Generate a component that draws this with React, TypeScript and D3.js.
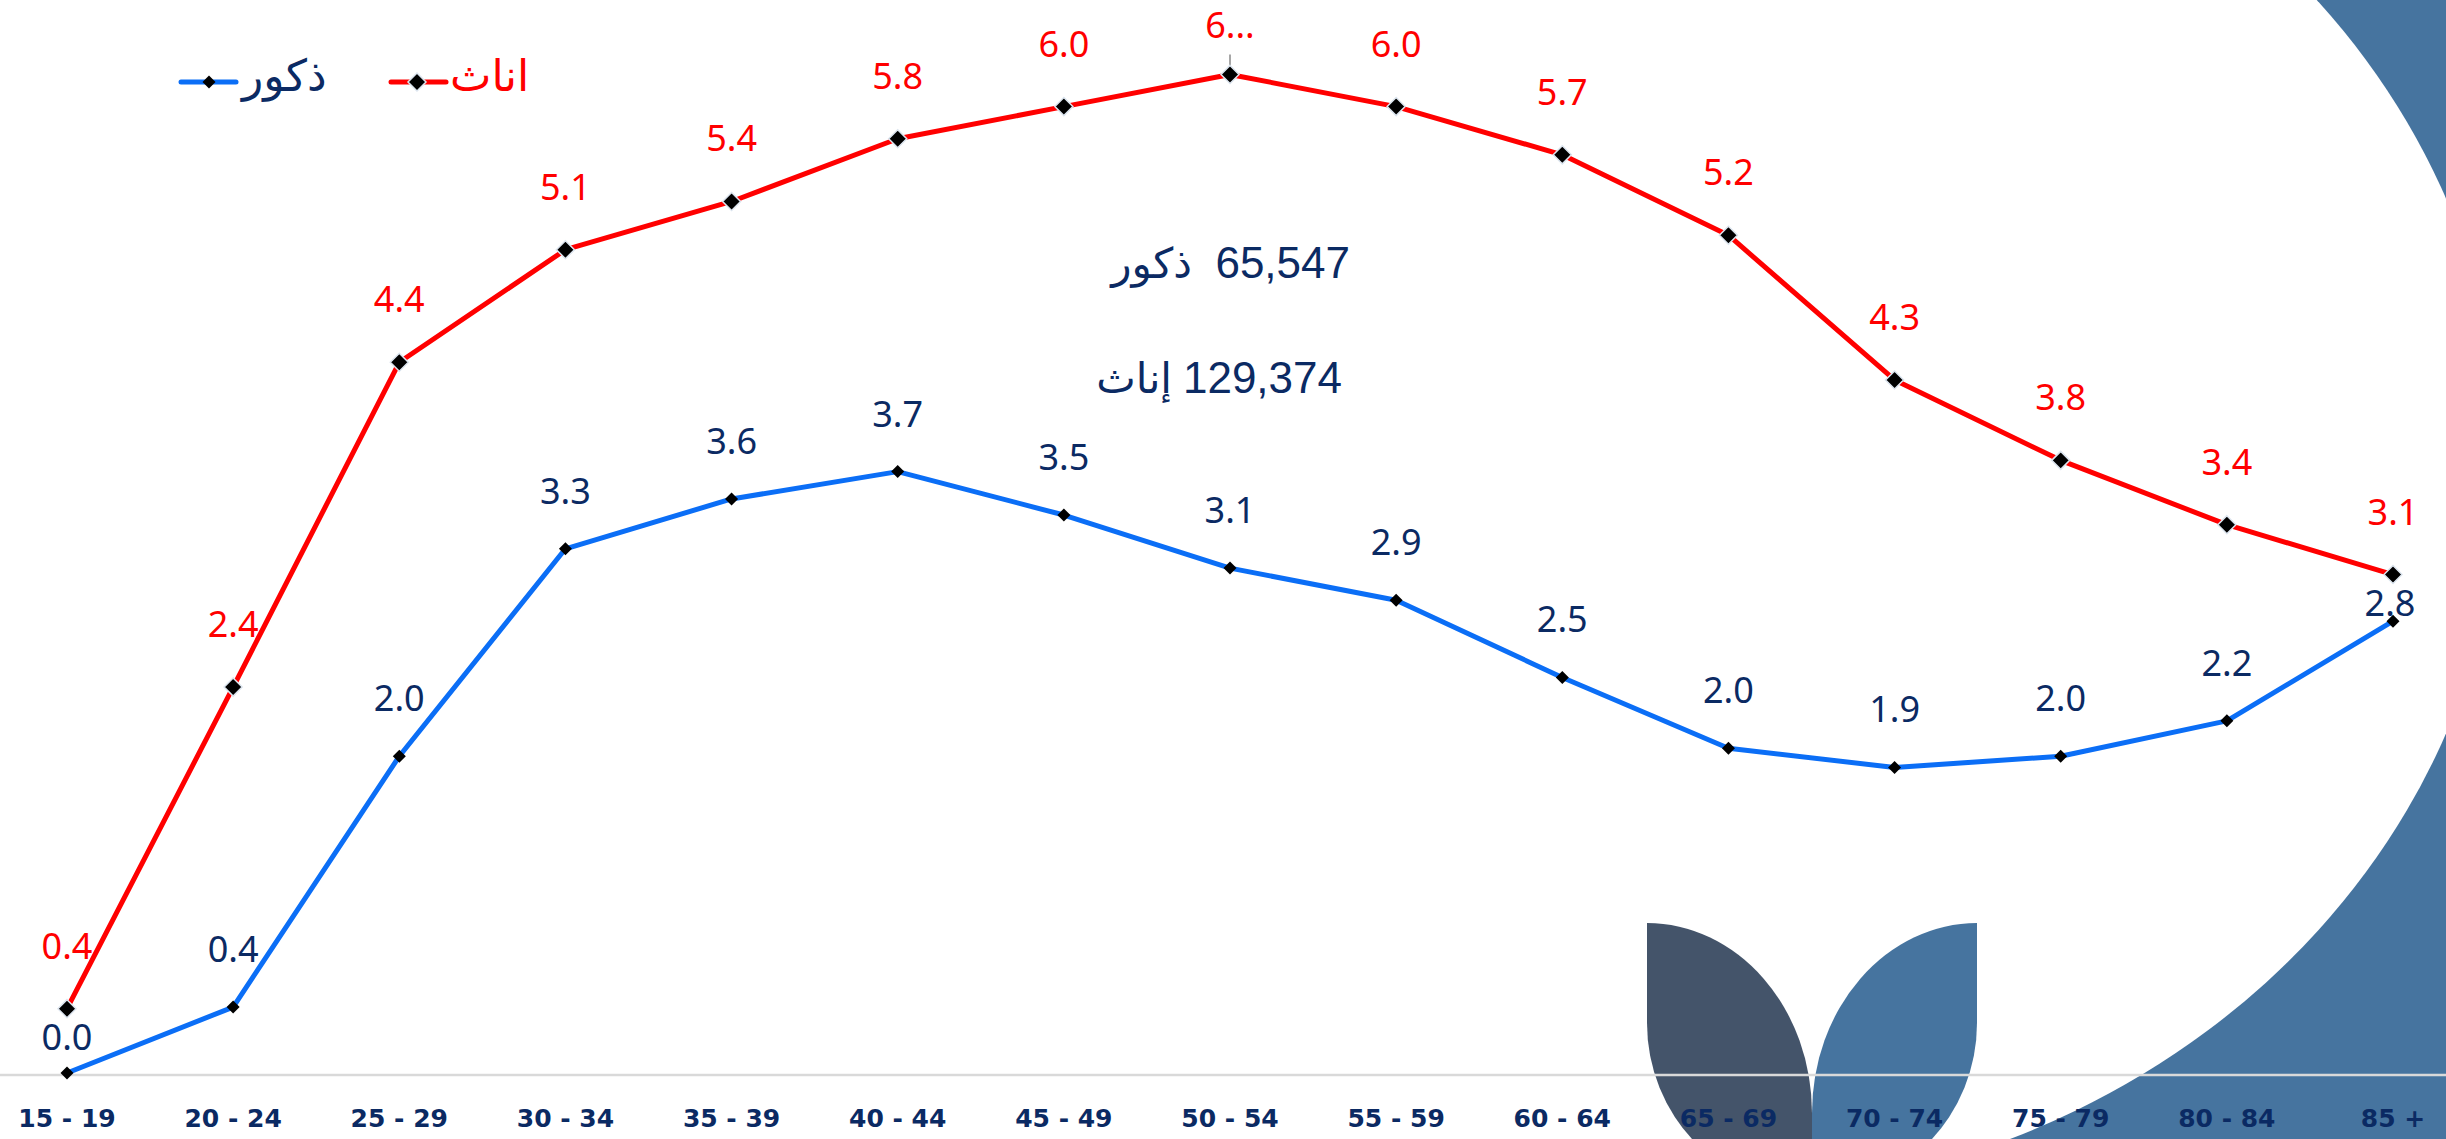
import React from "react";
import * as d3 from "d3";

// ---- data ----
const ageGroups = [
  "15 - 19", "20 - 24", "25 - 29", "30 - 34", "35 - 39", "40 - 44", "45 - 49",
  "50 - 54", "55 - 59", "60 - 64", "65 - 69", "70 - 74", "75 - 79", "80 - 84", "85 +",
];
const femaleValues = [0.4, 2.4, 4.42, 5.12, 5.42, 5.81, 6.01, 6.21, 6.01, 5.71, 5.21, 4.31, 3.81, 3.41, 3.1];
const maleValues = [0.0, 0.41, 1.97, 3.26, 3.57, 3.74, 3.47, 3.14, 2.94, 2.46, 2.02, 1.9, 1.97, 2.19, 2.81];
const seriesNames = { male: "ذكور", female: "اناث" };
const totalMale = 65547;
const totalFemale = 129374;
const totalLabels = { male: "ذكور", female: "إناث" };

// ---- style ----
const W = 2446;
const H = 1139;
const RED = "#ff0000";
const BLUE = "#0b6ef6";
const NAVY = "#0b2a63";
const STEEL = "#46749f";
const SLATE = "#44546a";
const LABEL_FONT = "'Noto Sans', 'Open Sans', sans-serif";
const ARABIC_FONT = "'DejaVu Sans', sans-serif";
// label lift overrides (moved labels in the original)
const maleLift: Record<number, number> = { 0: 23, 14: 5 };

const diamond = (r: number) => `M0,${-r}L${r},0L0,${r}L${-r},0Z`;

export default function App() {
  const x = d3.scalePoint<string>().domain(ageGroups).range([67, 2393]);
  const y = d3.scaleLinear().domain([0, 6.6]).range([1073, 1073 - 6.6 * 160.8]);
  const fmt = d3.format(".1f");
  const fmtTotal = d3.format(",");

  const line = d3
    .line<number>()
    .x((_, i) => x(ageGroups[i]) as number)
    .y((d) => y(d));

  const labelTop = 38;

  return (
    <svg
      width={W}
      height={H}
      viewBox={`0 0 ${W} ${H}`}
      style={{ position: "absolute", left: 0, top: 0, display: "block" }}
    >
      <rect x={0} y={0} width={W} height={H} fill="#ffffff" />
      {/* background decoration */}
      <rect x={2000} y={0} width={W - 2000} height={H} fill={STEEL} />
      <ellipse cx={1695} cy={466} rx={807} ry={731} fill="#ffffff" />
      <path
        d="M1647,923 A165,190 0 0 1 1812,1113 L1812,1192 A165,169 0 0 1 1647,1023 Z"
        fill={SLATE}
      />
      <path
        d="M1977,923 A165,190 0 0 0 1812,1113 L1812,1192 A165,169 0 0 0 1977,1023 Z"
        fill={STEEL}
      />

      {/* axis */}
      <line x1={0} x2={W} y1={1075} y2={1075} stroke="#d9d9d9" strokeWidth={2.5} />
      {ageGroups.map((g) => (
        <text
          key={g}
          x={x(g)}
          y={1127}
          textAnchor="middle"
          fontFamily="'DejaVu Sans', sans-serif"
          fontWeight="bold"
          fontSize={25}
          fill={NAVY}
        >
          {g}
        </text>
      ))}

      {/* lines */}
      <path d={line(femaleValues) || ""} fill="none" stroke={RED} strokeWidth={5} strokeLinejoin="round" />
      <path d={line(maleValues) || ""} fill="none" stroke={BLUE} strokeWidth={5} strokeLinejoin="round" />

      {/* markers */}
      {maleValues.map((v, i) => (
        <path
          key={"mm" + i}
          d={diamond(6.5)}
          transform={`translate(${x(ageGroups[i])},${y(v)})`}
          fill="#000"
        />
      ))}
      {femaleValues.map((v, i) => {
        const px = x(ageGroups[i]) as number;
        const py = y(v);
        const by = py - 50;
        const clamped = by < labelTop;
        return (
          <g key={"fm" + i}>
            {clamped && (
              <line x1={px} x2={px} y1={py - 20} y2={py - 6} stroke="#a6a6a6" strokeWidth={2} />
            )}
            <path
              d={diamond(9)}
              transform={`translate(${px},${py})`}
              fill="#000"
              stroke="#dce5ef"
              strokeWidth={1.5}
            />
          </g>
        );
      })}

      {/* labels */}
      {femaleValues.map((v, i) => {
        const px = x(ageGroups[i]) as number;
        const by = y(v) - 50;
        const clamped = by < labelTop;
        const txt = clamped ? fmt(v)[0] + "..." : fmt(v);
        return (
          <text
            key={"fl" + i}
            x={px}
            y={Math.max(by, labelTop)}
            textAnchor="middle"
            fontFamily={LABEL_FONT}
            fontSize={36}
            fill={RED}
          >
            {txt}
          </text>
        );
      })}
      {maleValues.map((v, i) => {
        const px = x(ageGroups[i]) as number;
        const lift = maleLift[i] ?? 45;
        return (
          <text
            key={"ml" + i}
            x={px + (i === ageGroups.length - 1 ? -3 : 0)}
            y={y(v) - lift}
            textAnchor="middle"
            fontFamily={LABEL_FONT}
            fontSize={36}
            fill={NAVY}
          >
            {fmt(v)}
          </text>
        );
      })}

      {/* legend */}
      <g>
        <line x1={181} x2={236} y1={82} y2={82} stroke={BLUE} strokeWidth={5} strokeLinecap="round" />
        <path d={diamond(6.5)} transform="translate(209,82)" fill="#000" />
        <text x={242} y={91} fontFamily={ARABIC_FONT} fontSize={44} fill={NAVY}>
          {seriesNames.male}
        </text>
        <line x1={391} x2={446} y1={82} y2={82} stroke={RED} strokeWidth={5} strokeLinecap="round" />
        <path d={diamond(9)} transform="translate(417,82)" fill="#000" stroke="#dce5ef" strokeWidth={1.5} />
        <text x={450} y={91} fontFamily={ARABIC_FONT} fontSize={44} fill={RED}>
          {seriesNames.female}
        </text>
      </g>

      {/* totals */}
      <g fill={NAVY}>
        <text x={1350} y={278} textAnchor="end" fontFamily="'Liberation Sans', Arial, sans-serif" fontSize={44}>
          {fmtTotal(totalMale)}
        </text>
        <text x={1192} y={278} textAnchor="end" fontFamily={ARABIC_FONT} fontSize={42}>
          {totalLabels.male}
        </text>
        <text x={1342} y={393} textAnchor="end" fontFamily="'Liberation Sans', Arial, sans-serif" fontSize={44}>
          {fmtTotal(totalFemale)}
        </text>
        <text x={1172} y={393} textAnchor="end" fontFamily={ARABIC_FONT} fontSize={42}>
          {totalLabels.female}
        </text>
      </g>
    </svg>
  );
}
